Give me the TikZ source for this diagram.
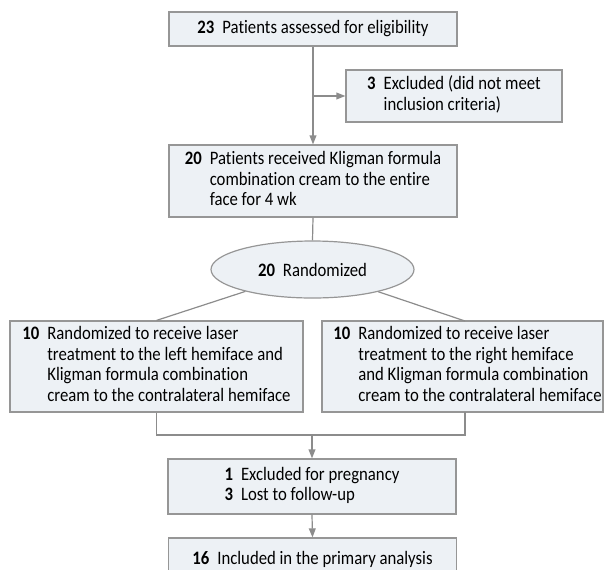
\documentclass[tikz,border=0pt]{standalone}
\usepackage{fontspec}
\setmainfont[FakeStretch=0.88, Ligatures=NoCommon]{Carlito}
\usetikzlibrary{arrows.meta}
\usetikzlibrary{shapes.geometric}
\usetikzlibrary{calc}

\definecolor{boxfill}{RGB}{237,241,245}
\definecolor{boxline}{RGB}{150,150,150}
\definecolor{linkgray}{RGB}{140,140,140}

\newcommand{\cnt}[1]{\begin{tabular}{@{}r@{\hspace{4pt}}l@{}}#1\end{tabular}}

\tikzset{
    flowbox/.style={draw=boxline, fill=boxfill, line width=0.6pt, inner sep=0pt, align=left,
        font=\fontsize{9.5}{10.2}\selectfont},
    randoval/.style={flowbox, ellipse},
    link/.style={draw=linkgray, line width=0.6pt},
    arrowlink/.style={link, -{Triangle[width=3.4pt,length=4.5pt]}}
}

\begin{document}
\begin{tikzpicture}[x=0.5pt, y=-0.5pt]
        \useasboundingbox (0,0) rectangle (605,569);
        \clip (0,0) rectangle (605,569);

        \node[flowbox, minimum width=144pt, minimum height=17pt] (elig) at (313,29)
            {\cnt{\textbf{23} & Patients assessed for eligibility}};
        \node[flowbox, minimum width=108pt, minimum height=26pt] (excl) at (454,96)
            {\cnt{\textbf{3} & Excluded (did not meet\\ & inclusion criteria)}};
        \node[flowbox, minimum width=144pt, minimum height=36pt] (recv) at (313,181)
            {\cnt{\textbf{20} & Patients received Kligman formula\\ & combination cream to the entire\\ & face for 4 wk}};
        \node[randoval, minimum width=101.5pt, minimum height=28.5pt, align=center] (rand) at (312.5,269.5)
            {\textbf{20}\hspace{4pt}Randomized};
        \node[flowbox, minimum width=146.5pt, minimum height=45.5pt] (left) at (156.5,366.5)
            {\cnt{\textbf{10} & Randomized to receive laser\\ & treatment to the left hemiface and\\ & Kligman formula combination\\ & cream to the contralateral hemiface}};
        \node[flowbox, minimum width=140.5pt, minimum height=45.5pt] (right) at (462.5,366.5)
            {\cnt{\textbf{10} & Randomized to receive laser\\ & treatment to the right hemiface\\ & and Kligman formula combination\\ & cream to the contralateral hemiface}\hspace{-5pt}};
        \node[flowbox, minimum width=144pt, minimum height=27.5pt] (lost) at (312,486.5)
            {\cnt{\textbf{1} & Excluded for pregnancy\\ \textbf{3} & Lost to follow-up}};
        \node[flowbox, minimum width=144pt, minimum height=22pt] (incl) at (312.5,560)
            {\cnt{\textbf{16} & Included in the primary analysis}};

        \coordinate (split) at (elig.south |- excl.west);
        \coordinate (rtop) at (465,321);
        \coordinate (rbot) at (465,412);
        \coordinate (lmid) at (left.south |- 0,435);
        \coordinate (rmid) at (rbot |- 0,435);
        \coordinate (join) at (lost.north |- 0,435);

        \draw[arrowlink] (elig.south) -- (recv.north);
        \draw[arrowlink] (split) -- (excl.west);
        \draw[link] (recv.south) -- (rand.north);
        \draw[link] (left.north) -- (rand);
        \draw[link] (rtop) -- (rand);
        \draw[link] (left.south) -- (lmid) -- (rmid) -- (rbot);
        \draw[arrowlink] (join) -- (lost.north);
        \draw[arrowlink] (lost.south) -- (incl.north);
    \end{tikzpicture}
\end{document}
